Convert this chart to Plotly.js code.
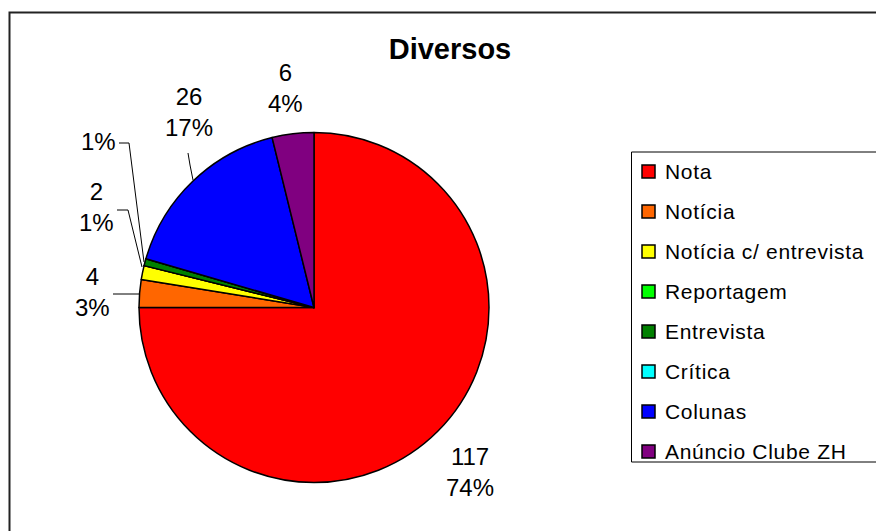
<!DOCTYPE html>
<html>
<head>
<meta charset="utf-8">
<script src="https://cdn.plot.ly/plotly-3.0.1.min.js"></script>
<style>
html,body{margin:0;padding:0;background:#fff;}
#chart{width:876px;height:531px;}
</style>
</head>
<body>
<div id="chart"></div>
<script>
// ---- data ----
var categories = ["Nota", "Notícia", "Notícia c/ entrevista", "Reportagem", "Entrevista", "Crítica", "Colunas", "Anúncio Clube ZH"];
var counts = [117, 4, 2, 0, 1, 0, 26, 6];
var valueLabels = ["117", "4", "2", "", "", "", "26", "6"];
var percentLabels = ["74%", "3%", "1%", "", "1%", "", "17%", "4%"];
var colors = ["#FF0000", "#FF6600", "#FFFF00", "#00FF00", "#008000", "#00FFFF", "#0000FF", "#800080"];
var chartTitle = "Diversos";

// ---- layout helpers (pixel -> paper) ----
var W = 876, H = 531;
function px(x){ return x / W; }
function py(y){ return 1 - y / H; }

var cx = 314, cy = 307.5, R = 175;
var FONT = "Liberation Sans, Arial, Helvetica, sans-serif";

var trace = {
  type: "pie",
  labels: categories,
  values: counts,
  sort: false,
  direction: "clockwise",
  rotation: 0,
  textinfo: "none",
  hoverinfo: "label+value+percent",
  showlegend: false,
  marker: { colors: colors, line: { color: "#000000", width: 1.5 } },
  domain: { x: [px(cx - R), px(cx + R)], y: [py(cy + R), py(cy - R)] }
};

// label positions (pixel centres) for each category's data label
var labelPos = [[470, 472], [92, 292], [96, 207], null, [98, 141], null, [189, 112], [285, 88]];

var annotations = [];
categories.forEach(function(c, i){
  if (!labelPos[i]) return;
  var t = valueLabels[i] ? valueLabels[i] + "<br>" + percentLabels[i] : percentLabels[i];
  annotations.push({
    xref: "paper", yref: "paper",
    x: px(labelPos[i][0]), y: py(labelPos[i][1]),
    xanchor: "center", yanchor: "middle",
    text: t, showarrow: false,
    font: { family: FONT, size: 24, color: "#000" }
  });
});

// custom legend
var shapes = [];
var legTop = 171.5, legStep = 40;
categories.forEach(function(c, i){
  var yc = legTop + legStep * i;
  shapes.push({
    type: "rect", xref: "paper", yref: "paper",
    x0: px(642), x1: px(655), y0: py(yc + 6.5), y1: py(yc - 6.5),
    fillcolor: colors[i], line: { color: "#000", width: 1.5 }
  });
  annotations.push({
    xref: "paper", yref: "paper",
    x: px(663), y: py(yc),
    xanchor: "left", yanchor: "middle", align: "left",
    text: c, showarrow: false,
    font: { family: FONT, size: 21, color: "#000" }
  });
});

// legend box
shapes.push({ type: "rect", xref: "paper", yref: "paper",
  x0: px(631.5), x1: px(900), y0: py(462), y1: py(152),
  line: { color: "#000", width: 1 } });
// outer chart-area border
shapes.push({ type: "rect", xref: "paper", yref: "paper",
  x0: px(9.5), x1: px(900), y0: py(560), y1: py(12.5),
  line: { color: "#222", width: 2 } });

// leader lines
function path(pts){
  return "M" + pts.map(function(p){ return px(p[0]) + "," + py(p[1]); }).join(" L");
}
var leaders = [
  [[113, 294], [140, 294]],
  [[117, 210], [128, 210], [142, 267]],
  [[119, 143], [129, 143], [144, 262]],
  [[188, 153], [190, 165], [193, 180]]
];
leaders.forEach(function(l){
  shapes.push({ type: "path", xref: "paper", yref: "paper", path: path(l),
    line: { color: "#000", width: 1 } });
});

var layout = {
  width: W, height: H,
  margin: { l: 0, r: 0, t: 0, b: 0 },
  paper_bgcolor: "#fff",
  title: {
    text: "<b>" + chartTitle + "</b>",
    x: px(450), y: py(49), xanchor: "center", yanchor: "middle",
    xref: "paper", yref: "paper",
    font: { family: FONT, size: 29, color: "#000" }
  },
  annotations: annotations,
  shapes: shapes
};

Plotly.newPlot("chart", [trace], layout, { displayModeBar: false, staticPlot: true }).then(function(){
  // Excel-like wider spacing for legend entries
  document.querySelectorAll("#chart .annotation-text").forEach(function(el){
    if (categories.indexOf(el.textContent) >= 0) el.style.letterSpacing = "0.7px";
  });
});
</script>
</body>
</html>
